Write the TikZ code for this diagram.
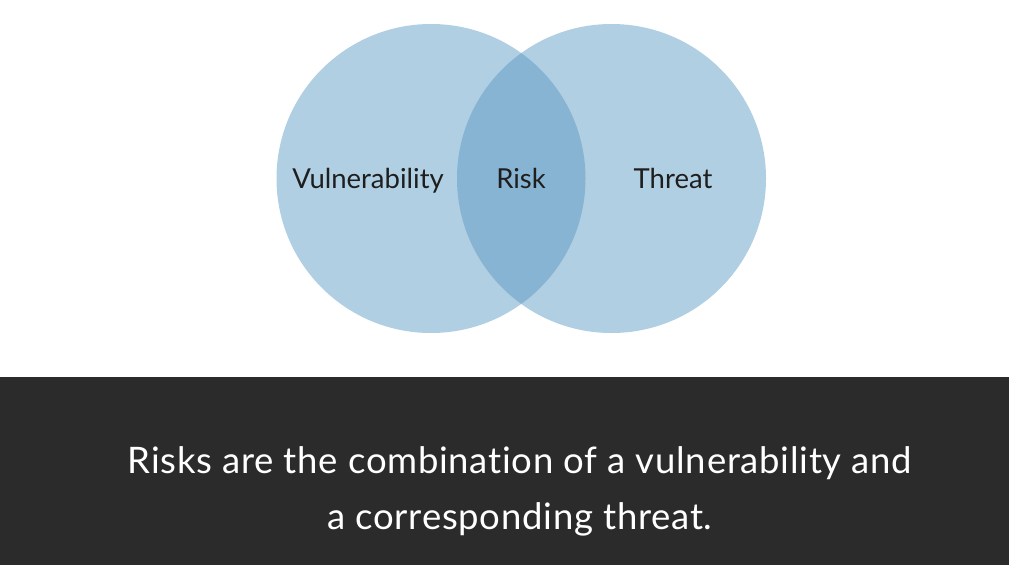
\documentclass[tikz,border=0pt]{standalone}
\usepackage{fontspec}
\setmainfont{Lato}[Ligatures=NoCommon]
\newfontfamily\capfont{Lato}[Ligatures=NoCommon,LetterSpace=2]
\definecolor{circfill}{HTML}{B0CFE3}
\definecolor{riskfill}{HTML}{88B4D3}
\definecolor{bandfill}{HTML}{2B2B2B}
\definecolor{labelink}{HTML}{1E1E1E}
\tikzset{
  setlabel/.style={anchor=base, text=labelink, font=\fontsize{27.5}{32}\selectfont},
  captionline/.style={anchor=base, text=white, font=\capfont\fontsize{36.5}{42}\selectfont}
}
\begin{document}
\begin{tikzpicture}[x=1pt,y=-1pt]
    \useasboundingbox (0,0) rectangle (1009,565);
    \fill[white] (0,0) rectangle (1009,377);
    \fill[bandfill] (0,377) rectangle (1009,565);
    % the two sets
    \fill[circfill] (431,178.5) circle (154.5);
    \fill[circfill] (611.5,178.5) circle (154.5);
    \begin{scope}
        \clip (431,178.5) circle (154.5);
        \fill[riskfill] (611.5,178.5) circle (154.5);
    \end{scope}
    \node[setlabel] (vuln) at (368,188) {Vulnerability};
    \node[setlabel] (risk) at (521,188) {Risk};
    \node[setlabel] (threat) at (673,188) {Threat};
    % caption
    \node[captionline] (capa) at (520,473) {Risks are the combination of a vulnerability and};
    \node[captionline] (capb) at (520,529) {a corresponding threat.};
\end{tikzpicture}
\end{document}
